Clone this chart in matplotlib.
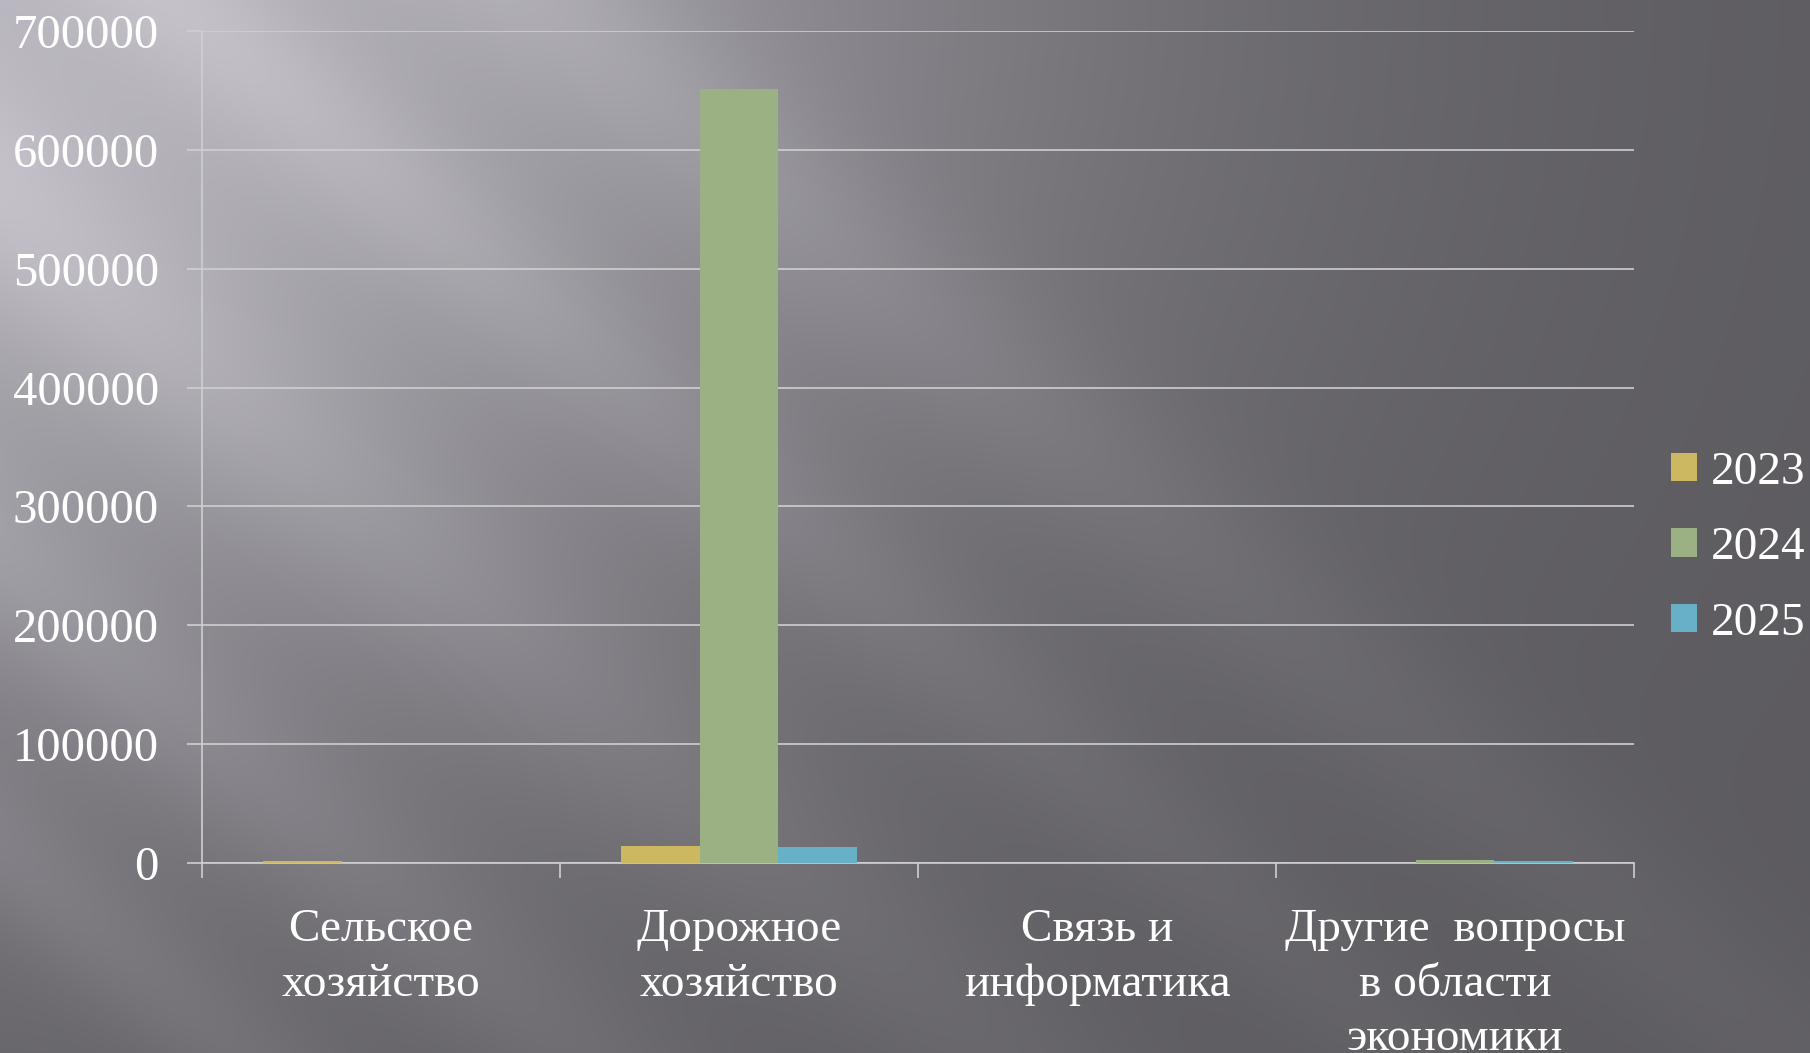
import numpy as np
import matplotlib
matplotlib.use("Agg")
import matplotlib.pyplot as plt

# data
categories = ["Сельское\nхозяйство", "Дорожное\nхозяйство", "Связь и\nинформатика",
              "Другие  вопросы\nв области\nэкономики"]
years = ["2023", "2024", "2025"]
y2023 = [1600, 14300, 0, 0]
y2024 = [0, 651000, 0, 2500]
y2025 = [0, 13200, 0, 1700]
yticks = [0, 100000, 200000, 300000, 400000, 500000, 600000, 700000]

colors = ["#cdb862", "#9bb184", "#68afc8"]

plt.rcParams['font.family'] = ['Liberation Serif', 'DejaVu Serif']

W, H = 1810, 1053
fig = plt.figure(figsize=(W / 100, H / 100), dpi=100)

# background: grey gradient with diagonal light streaks
yy, xx = np.mgrid[0:H, 0:W].astype(float)
b = 0.36 + 0.36 * np.exp(-(xx**2 + (1.3 * yy)**2) / (2 * 700.0**2))
d = yy - 0.85 * xx
fade = np.exp(-xx / 1300.0)
for c, wd, amp in [(-470, 110, 0.09), (-150, 90, 0.07), (200, 120, 0.07), (560, 100, 0.06), (850, 80, 0.05)]:
    b += amp * fade * np.exp(-((d - c) / wd)**2)
b = np.clip(b, 0, 1)
img = np.dstack([b, b * 0.985, np.clip(b * 1.03, 0, 1)])
fig.figimage(img, xo=0, yo=0, origin='upper', zorder=-10)

ax = fig.add_axes([202 / W, 1 - 863 / H, (1634 - 202) / W, (863 - 31) / H])
ax.set_facecolor('none')

x = np.arange(len(categories))
w = 0.22
bars = []
for k, (vals, col) in enumerate(zip([y2023, y2024, y2025], colors)):
    bars.append(ax.bar(x + (k - 1) * w, vals, w, color=col, zorder=3))

ax.set_xlim(-0.5, len(categories) - 0.5)
ax.set_ylim(0, 700000)
ax.set_yticks(yticks)
ax.set_yticklabels([str(v) for v in yticks])
ax.grid(axis='y', color='#cfcfd2', linewidth=1.2, zorder=0)

# category boundaries as major ticks, labels on minor ticks
ax.set_xticks(np.arange(len(categories) + 1) - 0.5)
ax.set_xticklabels([])
ax.set_xticks(x, minor=True)
ax.set_xticklabels(categories, minor=True, linespacing=1.36)
ax.tick_params(axis='x', which='major', length=11, color='#cfcfd2', width=1.2)
ax.tick_params(axis='x', which='minor', length=0, pad=33, labelsize=34, labelcolor='white')
ax.tick_params(axis='y', length=11, color='#cfcfd2', width=1.2, pad=20, labelsize=35, labelcolor='white')

for s in ['top', 'right']:
    ax.spines[s].set_visible(False)
for s in ['left', 'bottom']:
    ax.spines[s].set_color('#cfcfd2')
    ax.spines[s].set_linewidth(1.2)

leg = fig.legend([bb[0] for bb in bars], years, loc='center left',
                 bbox_to_anchor=(1671 / W, 1 - 548 / H), frameon=False,
                 fontsize=34, handlelength=0.55, handleheight=0.55,
                 handletextpad=0.3, labelspacing=0.7, borderpad=0, borderaxespad=0)
for t in leg.get_texts():
    t.set_color('white')

fig.savefig("out.png", dpi=100)
